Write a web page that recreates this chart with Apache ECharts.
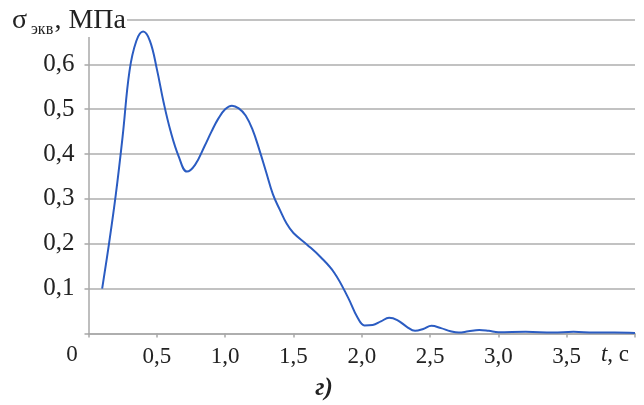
<!DOCTYPE html>
<html><head><meta charset="utf-8">
<script src="https://cdn.jsdelivr.net/npm/echarts@6/dist/echarts.min.js"></script>
<style>html,body{margin:0;padding:0;background:#fff}#c{width:644px;height:405px}</style>
</head><body><div id="c"></div>
<script>
const times = [0.1,0.15,0.2,0.25,0.3,0.35,0.4,0.45,0.5,0.55,0.6,0.66,0.72,0.78,0.85,0.9,0.95,1.0,1.05,1.1,1.15,1.2,1.25,1.3,1.35,1.4,1.45,1.5,1.6,1.7,1.8,1.9,1.97,2.02,2.08,2.14,2.2,2.26,2.33,2.39,2.45,2.51,2.58,2.65,2.71,2.78,2.86,2.93,3.0,3.2,3.4,3.55,3.7,3.85,4.0];
const stress = [0.1,0.2,0.31,0.44,0.585,0.652,0.673,0.652,0.59,0.515,0.452,0.395,0.361,0.376,0.418,0.45,0.479,0.5,0.508,0.502,0.486,0.455,0.41,0.36,0.31,0.276,0.245,0.224,0.198,0.17,0.135,0.08,0.035,0.018,0.019,0.027,0.035,0.03,0.015,0.006,0.01,0.017,0.012,0.005,0.002,0.005,0.008,0.006,0.003,0.004,0.002,0.004,0.002,0.002,0.001];
const xTicks = ['', '0,5', '1,0', '1,5', '2,0', '2,5', '3,0', '3,5', ''];
const yTicks = ['', '0,1', '0,2', '0,3', '0,4', '0,5', '0,6', ''];

const chart = echarts.init(document.getElementById('c'), null, {renderer:'canvas'});
const font = '"Liberation Serif", "DejaVu Serif", serif';
chart.setOption({
  animation:false,
  grid:{left:88.5, right:9, top:19.5, bottom:71.5},
  xAxis:{type:'value', min:0, max:4, interval:0.5,
    axisLine:{show:true, lineStyle:{color:'#a8a8a8', width:1.5}},
    axisTick:{show:true, length:4, lineStyle:{color:'#a8a8a8', width:1.5}},
    splitLine:{show:false},
    axisLabel:{fontFamily:font, fontSize:23, color:'#222', margin:12,
      formatter:(v)=>xTicks[Math.round(v/0.5)]}
  },
  yAxis:{type:'value', min:0, max:0.7, interval:0.1,
    axisLine:{show:true, lineStyle:{color:'#a8a8a8', width:1.5}},
    axisTick:{show:true, length:4, lineStyle:{color:'#a8a8a8', width:1.5}},
    splitLine:{show:true, lineStyle:{color:'#c2c2c2', width:2}},
    axisLabel:{fontFamily:font, fontSize:25, color:'#222', margin:14,
      formatter:(v)=>yTicks[Math.round(v/0.1)]}
  },
  series:[{type:'line', data:times.map((t,i)=>[t,stress[i]]), smooth:0.4, symbol:'none',
    lineStyle:{color:'#2b5cc2', width:2}}],
  graphic:[
    {type:'rect', shape:{x:0, y:0, width:127, height:37}, z:99, style:{fill:'#fff'}},
    {type:'text', x:12, y:21, z:100, style:{text:'σ', fontFamily:font, fontSize:28, fill:'#222', verticalAlign:'middle'}},
    {type:'text', x:31, y:30, z:100, style:{text:'экв', fontFamily:font, fontSize:16, fill:'#222', verticalAlign:'middle'}},
    {type:'text', x:126, y:21, z:100, style:{text:', МПа', fontFamily:font, fontSize:28, fill:'#222', align:'right', verticalAlign:'middle'}},
    {type:'text', x:72, y:355, z:100, style:{text:'0', fontFamily:font, fontSize:23, fill:'#222', align:'center', verticalAlign:'middle'}},
    {type:'text', x:615, y:355, z:100, style:{text:'{i|t}{n|, c}', align:'center', verticalAlign:'middle',
      rich:{i:{fontFamily:font, fontSize:23, fontStyle:'italic', fill:'#222'}, n:{fontFamily:font, fontSize:23, fill:'#222'}}}},
    {type:'text', x:324, y:389, z:100, style:{text:'г)', fontFamily:font, fontSize:25, fontStyle:'italic', fontWeight:'bold', fill:'#222', align:'center', verticalAlign:'middle'}}
  ]
});
</script></body></html>
